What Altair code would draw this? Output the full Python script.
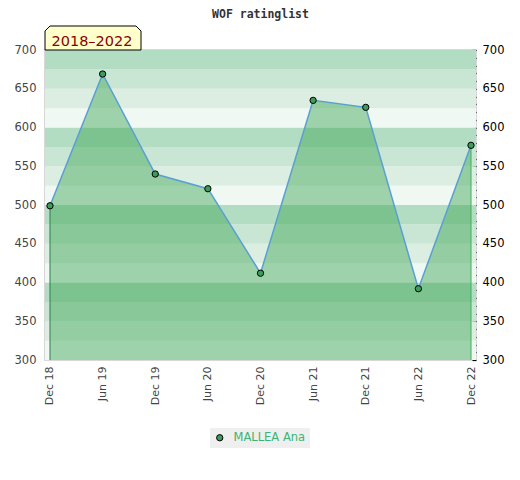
import altair as alt
import pandas as pd

# ---- data ----
labels = ["Dec 18", "Jun 19", "Dec 19", "Jun 20", "Dec 20", "Jun 21", "Dec 21", "Jun 22", "Dec 22"]
ratings = [499, 669, 540, 521, 412, 635, 626, 392, 577]
series_name = "MALLEA Ana"
period_label = "2018–2022"
chart_title = "WOF ratinglist"

y_min, y_max = 300, 700
left_ticks = list(range(300, 701, 50))
right_ticks = list(range(300, 701, 10))

band_lo = list(range(300, 700, 25))
band_palette = ["#b3ddc3", "#c8e6d3", "#dceee2", "#eff8f2"]  # top-of-hundred darkest
band_colors = [band_palette[3 - ((lo - 300) // 25) % 4] for lo in band_lo]

W, H = 431, 310

main = pd.DataFrame({"label": labels, "rating": ratings, "series": [series_name] * len(labels)})
bands = pd.DataFrame({"lo": band_lo, "hi": [v + 25 for v in band_lo], "color": band_colors})
edges = pd.DataFrame({"label": [labels[0], labels[-1]], "rating": [ratings[0], ratings[-1]],
                      "color": ["#2e7d4f", "#3cb05a"]})
one = pd.DataFrame({"t": [0]})

yscale = alt.Scale(domain=[y_min, y_max], zero=False, nice=False)
xscale = alt.Scale(type="point", padding=0.095)

left_axis = alt.Axis(values=left_ticks, ticks=False, domain=False, grid=False, title=None,
                     labelColor="#444444", labelFontSize=11.5, labelFont="DejaVu Sans",
                     labelPadding=9, labelFlush=False, labelOverlap=False)
x_axis = alt.Axis(labelAngle=270, ticks=False, domain=False, grid=False, title=None,
                  labelColor="#444444", labelFontSize=11, labelFont="DejaVu Sans",
                  labelPadding=6)
right_axis = alt.Axis(orient="right", values=right_ticks, offset=-4, tickSize=4, tickColor="#000000",
                      tickWidth=1.2,
                      domain=False, grid=False, title=None,
                      labelExpr="datum.value % 50 == 0 ? datum.label : ''",
                      labelColor="#000000", labelFontSize=11.5, labelFont="DejaVu Sans",
                      labelPadding=6, labelFlush=False, labelOverlap=False, labelBound=False)

X = alt.X("label:O", sort=labels, scale=xscale, axis=x_axis)

band_layer = alt.Chart(bands).mark_rect().encode(
    x=alt.value(0), x2=alt.value(W),
    y=alt.Y("lo:Q", scale=yscale, axis=left_axis), y2="hi:Q",
    fill=alt.Fill("color:N", scale=None),
)

area_layer = alt.Chart(main).mark_area(color="#3ca453", opacity=0.45).encode(
    x=X, y=alt.Y("rating:Q", scale=yscale, axis=left_axis), y2=alt.datum(y_min),
)

edge_layer = alt.Chart(edges).mark_rule(strokeWidth=1).encode(
    x=X, y=alt.Y("rating:Q", scale=yscale, axis=left_axis), y2=alt.datum(y_min),
    color=alt.Color("color:N", scale=None),
)

line_layer = alt.Chart(main).mark_line(color="#5a9fd4", strokeWidth=1.5).encode(
    x=X, y=alt.Y("rating:Q", scale=yscale, axis=left_axis),
)

point_layer = alt.Chart(main).mark_point(filled=True, size=40, stroke="#000000",
                                          strokeWidth=1, opacity=1).encode(
    x=X, y=alt.Y("rating:Q", scale=yscale, axis=left_axis),
    color=alt.Color("series:N", scale=alt.Scale(range=["#3a9d5d"]),
                    legend=alt.Legend(title=None, orient="none", legendX=165, legendY=378,
                                      fillColor="#efefef", padding=4, symbolType="circle",
                                      symbolSize=40, symbolStrokeColor="#000000",
                                      symbolStrokeWidth=1, labelColor="#3cb371",
                                      labelFontSize=11.5, labelFont="DejaVu Sans",
                                      labelOffset=8)),
)

box_layer = alt.Chart(one).mark_point(
    shape="M -0.896 -0.25 L 0.896 -0.25 L 1 -0.146 L 1 0.25 L -1 0.25 L -1 -0.146 Z",
    filled=True, fill="#ffffcc", stroke="#000000", strokeWidth=1, opacity=1, size=9216,
).encode(x=alt.value(48), y=alt.value(-12))

period_layer = alt.Chart(one).mark_text(
    text=period_label, color="#8b0000", font="DejaVu Sans", fontSize=14.5,
    align="center", baseline="alphabetic",
).encode(x=alt.value(47), y=alt.value(-4.5))

title_layer = alt.Chart(one).mark_text(
    text=chart_title, color="#333333", font="DejaVu Sans Mono", fontSize=11.5, fontWeight="bold",
    align="center", baseline="alphabetic",
).encode(x=alt.value(W / 2), y=alt.value(-32))

inner = alt.layer(band_layer, area_layer, edge_layer, line_layer, point_layer,
                  box_layer, period_layer, title_layer)

right_layer = alt.Chart(main).mark_point(opacity=0).encode(
    x=X, y=alt.Y("rating:Q", scale=yscale, axis=right_axis),
)

chart = alt.layer(inner, right_layer).resolve_scale(y="independent").properties(
    width=W, height=H,
    padding={"left": 37, "top": 42, "right": 36, "bottom": 110},
    autosize=alt.AutoSizeParams(type="none"),
).configure_view(stroke="#cccccc", strokeWidth=1.5)

chart.save("out.html", embed_options={"renderer": "svg", "actions": False})
